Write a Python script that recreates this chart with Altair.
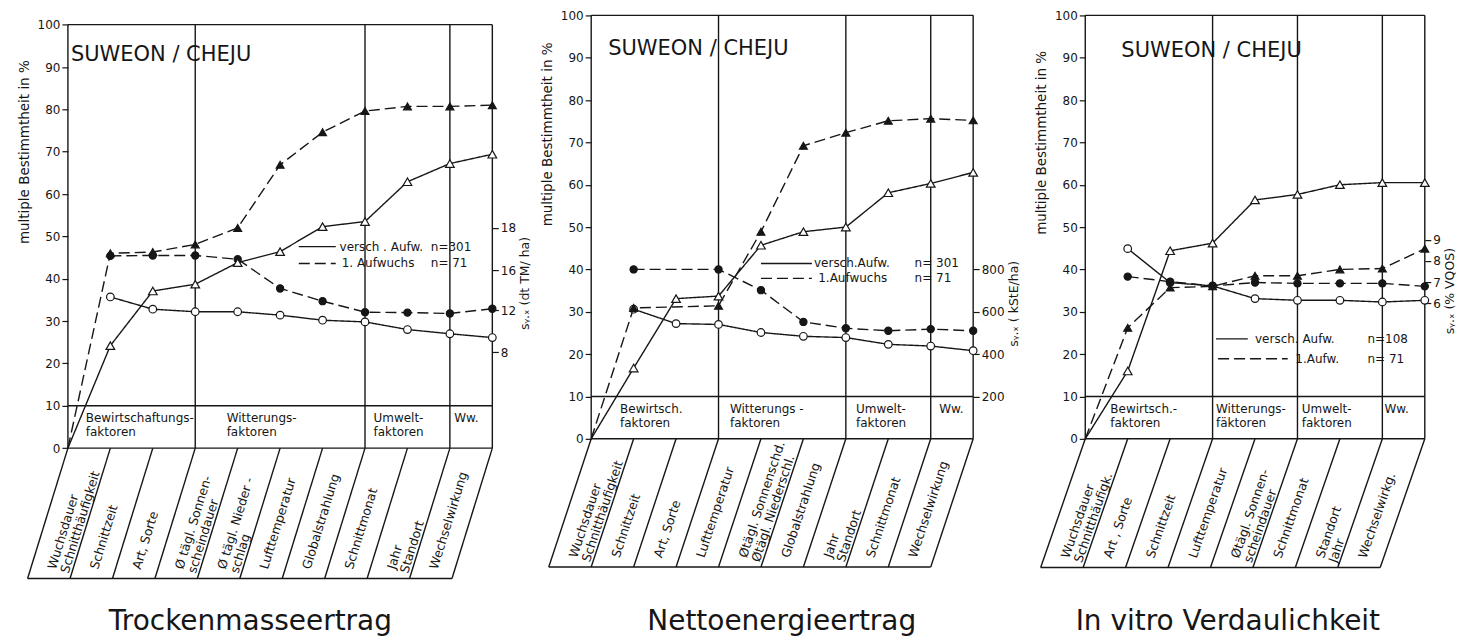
import math
import altair as alt
import pandas as pd

FONT = "DejaVu Sans"
INK = "#161616"
PXU = 42.5      # pixels per factor step (style)
PYU = 4.24      # pixels per percent (style)
H = 627

# ---------------- data: Trockenmasseertrag ----------------
p1_categories = ["Wuchsdauer\nSchnitthäufigkeit", "Schnittzeit", "Art, Sorte",
                 "Ø tägl. Sonnen-\nscheindauer", "Ø tägl. Nieder -\nschlag", "Lufttemperatur",
                 "Globalstrahlung", "Schnittmonat", "Jahr\nStandort", "Wechselwirkung"]
p1_r2_versch = [24.2, 37.1, 38.7, 43.8, 46.4, 52.3, 53.5, 62.9, 67.2, 69.4]
p1_r2_erst = [46.0, 46.3, 48.1, 52.0, 66.9, 74.6, 79.6, 80.7, 80.7, 81.0]
p1_s_versch = [35.7, 32.8, 32.2, 32.2, 31.4, 30.2, 29.8, 28.0, 27.0, 26.1]
p1_s_erst = [45.4, 45.5, 45.5, 44.6, 37.7, 34.7, 32.1, 32.0, 31.8, 32.9]
p1_groups = ["Bewirtschaftungs-\nfaktoren", "Witterungs-\nfaktoren", "Umwelt-\nfaktoren", "Ww."]
p1_group_ends = [3, 7, 9, 10]
p1_right_pos = [52, 42, 32.5, 22.6]
p1_right_labels = ["18", "16", "12", "8"]
p1_right_title = "sᵧ.ₓ (dt TM/ ha)"
p1_legend = ["versch . Aufw.", "1. Aufwuchs"]
p1_legend_n = ["n=301", "n=  71"]
p1_title = "Trockenmasseertrag"

# ---------------- data: Nettoenergieertrag ----------------
p2_categories = ["Wuchsdauer\nSchnitthäufigkeit", "Schnittzeit", "Art, Sorte", "Lufttemperatur",
                 "Øtägl. Sonnenschd.\nØtägl. Niederschl.", "Globalstrahlung", "Jahr\nStandort",
                 "Schnittmonat", "Wechselwirkung"]
p2_r2_versch = [16.7, 33.1, 33.7, 45.7, 48.9, 50.0, 58.1, 60.3, 62.9]
p2_r2_erst = [30.9, None, 31.4, 48.9, 69.2, 72.3, 75.1, 75.6, 75.2]
p2_s_versch = [30.6, 27.2, 27.0, 25.1, 24.2, 23.9, 22.3, 21.9, 20.8]
p2_s_erst = [40.0, None, 40.0, 35.1, 27.6, 26.1, 25.5, 25.9, 25.5]
p2_groups = ["Bewirtsch.\nfaktoren", "Witterungs -\nfaktoren", "Umwelt-\nfaktoren", "Ww."]
p2_group_ends = [3, 6, 8, 9]
p2_right_pos = [40, 30, 20, 10]
p2_right_labels = ["800", "600", "400", "200"]
p2_right_title = "sᵧ.ₓ ( kStE/ha)"
p2_legend = ["versch.Aufw.", "1.Aufwuchs"]
p2_legend_n = ["n= 301", "n=   71"]
p2_title = "Nettoenergieertrag"

# ---------------- data: In vitro Verdaulichkeit ----------------
p3_categories = ["Wuchsdauer\nSchnitthäufigk.", "Art , Sorte", "Schnittzeit", "Lufttemperatur",
                 "Øtägl. Sonnen-\nscheindauer", "Schnittmonat", "Standort\nJahr", "Wechselwirkg."]
p3_r2_versch = [16.0, 44.4, 46.2, 56.4, 57.7, 60.0, 60.5, 60.5]
p3_r2_erst = [26.2, 35.7, 36.0, 38.5, 38.5, 40.0, 40.2, 44.9]
p3_s_versch = [44.9, 36.9, 36.1, 33.1, 32.7, 32.7, 32.3, 32.7]
p3_s_erst = [38.3, 37.1, 36.1, 36.9, 36.7, 36.7, 36.7, 36.0]
p3_groups = ["Bewirtsch.-\nfaktoren", "Witterungs-\nfäktoren", "Umwelt-\nfaktoren", "Ww."]
p3_group_ends = [3, 5, 7, 8]
p3_right_pos = [47, 42, 37, 32]
p3_right_labels = ["9", "8", "7", "6"]
p3_right_title = "sᵧ.ₓ (% VQOS)"
p3_legend = ["versch. Aufw.", "1.Aufw."]
p3_legend_n = ["n=108", "n= 71"]
p3_title = "In vitro Verdaulichkeit"

location = "SUWEON / CHEJU"

# ---------------- layout / style per panel ----------------
styles = [
    dict(xmin=-55 / PXU, ymax=103.6, slant=0.95, depth=30.8,
         group_x=[0.42, 3.74, 7.2, 9.1], loc=(0.07, 92.8), title_x=4.3,
         leg_solid=(5.44, 6.31, 47.6), leg_dash=(5.44, 6.31, 43.6), leg_name_x=(6.4, 6.45),
         leg_n_x=8.55, ytitle_c=70, rtitle_c=39),
    dict(xmin=-1.1, ymax=101.4, slant=1.0, depth=30.3,
         group_x=[0.68, 3.27, 6.24, 8.2], loc=(0.4, 92.1), title_x=4.49,
         leg_solid=(4.0, 5.2, 41.4), leg_dash=(4.0, 5.2, 37.9), leg_name_x=(5.25, 5.35),
         leg_n_x=7.62, ytitle_c=72, rtitle_c=32),
    dict(xmin=-60.25 / PXU, ymax=101.4, slant=1.05, depth=30.4,
         group_x=[0.59, 3.08, 5.1, 7.05], loc=(0.85, 91.5), title_x=3.36,
         leg_solid=(3.08, 3.83, 23.6), leg_dash=(3.13, 4.77, 18.9), leg_name_x=(4.0, 4.95),
         leg_n_x=6.65, ytitle_c=70, rtitle_c=35),
]

panels_data = [
    (p1_categories, p1_r2_versch, p1_r2_erst, p1_s_versch, p1_s_erst, p1_groups, p1_group_ends,
     p1_right_pos, p1_right_labels, p1_right_title, p1_legend, p1_legend_n, p1_title),
    (p2_categories, p2_r2_versch, p2_r2_erst, p2_s_versch, p2_s_erst, p2_groups, p2_group_ends,
     p2_right_pos, p2_right_labels, p2_right_title, p2_legend, p2_legend_n, p2_title),
    (p3_categories, p3_r2_versch, p3_r2_erst, p3_s_versch, p3_s_erst, p3_groups, p3_group_ends,
     p3_right_pos, p3_right_labels, p3_right_title, p3_legend, p3_legend_n, p3_title),
]


def make_panel(d, st):
    (cats, r2v, r2e, sv, se, groups, gends, rpos, rlab, rtitle, legend, legend_n, title) = d
    N = len(cats)
    xmin = st["xmin"]
    ymax = st["ymax"]
    ymin = ymax - H / PYU
    depth, slant = st["depth"], st["slant"]
    W = (N - xmin) * PXU

    xs = alt.Scale(domain=[xmin, N], nice=False, zero=False)
    ys = alt.Scale(domain=[ymin, ymax], nice=False, zero=False)
    left_axis = alt.Axis(values=list(range(0, 101, 10)), domain=False, grid=False,
                         tickSize=6, tickColor=INK, tickWidth=1.2,
                         labelColor=INK, labelFont=FONT, labelFontSize=12, labelPadding=2,
                         offset=xmin * PXU,
                         title="multiple Bestimmtheit in %", titleFont=FONT, titleFontSize=13.5,
                         titleFontWeight="normal", titleColor=INK, titlePadding=6,
                         titleY=(ymax - st["ytitle_c"]) * PYU)

    def X():
        return alt.X("x:Q", scale=xs, axis=None)

    def Y():
        return alt.Y("y:Q", scale=ys, axis=left_axis)

    # series (long format)
    rows = []
    for name, vals, style, marker, origin in [
        ("r2v", r2v, "solid", "tri_open", True),
        ("r2e", r2e, "dashed", "tri_fill", True),
        ("sv", sv, "solid", "circ_open", False),
        ("se", se, "dashed", "circ_fill", False),
    ]:
        if origin:
            rows.append(dict(x=0, y=0, series=name, style=style, marker="none"))
        for i, v in enumerate(vals):
            if v is not None:
                rows.append(dict(x=i + 1, y=v, series=name, style=style, marker=marker))
    sdf = pd.DataFrame(rows)

    # frame & label-box segments
    segs = [(0, 100, N, 100), (0, 0, 0, 100), (N, 0, N, 100), (0, 0, N, 0), (0, 10, N, 10)]
    for e in gends[:-1]:
        segs.append((e, 0, e, 100))
    for k in range(0, N + 1):
        segs.append((k, 0, k - slant, -depth))
    segs.append((-slant, -depth, N - slant, -depth))
    segdf = pd.DataFrame(segs, columns=["x", "y", "x2", "y2"])

    frame = alt.Chart(segdf).mark_rule(color=INK, strokeWidth=1.4).encode(
        x=X(), x2="x2:Q", y=Y(), y2="y2:Q")

    lines = alt.Chart(sdf).mark_line(color=INK, strokeWidth=1.4).encode(
        x=X(), y=Y(), detail="series:N", order="x:Q",
        strokeDash=alt.StrokeDash("style:N", legend=None,
                                  scale=alt.Scale(domain=["solid", "dashed"], range=[[1, 0], [11, 5]])))

    pts = []
    for marker, shape, fill, size in [("circ_open", "circle", "white", 58),
                                      ("circ_fill", "circle", INK, 52),
                                      ("tri_open", "triangle-up", "white", 75),
                                      ("tri_fill", "triangle-up", INK, 62)]:
        pts.append(alt.Chart(sdf).transform_filter(alt.datum.marker == marker).mark_point(
            shape=shape, filled=True, fill=fill, stroke=INK, strokeWidth=1.2, size=size, opacity=1
        ).encode(x=X(), y=Y()))

    # category labels in the slanted boxes
    a = depth - 2.3
    cdf = pd.DataFrame({"x": [k - 0.5 - slant * a / depth for k in range(1, N + 1)],
                        "y": [-a] * N, "t": cats})
    ang = 360 - math.degrees(math.atan2(depth * PYU, slant * PXU))
    catlab = alt.Chart(cdf).mark_text(font=FONT, fontSize=12.5, color=INK, align="left",
                                      baseline="middle", angle=ang, lineBreak="\n",
                                      lineHeight=13.5).encode(x=X(), y=Y(), text="t:N")

    gdf = pd.DataFrame({"x": st["group_x"], "y": [8.3] * len(groups), "t": groups})
    grplab = alt.Chart(gdf).mark_text(font=FONT, fontSize=12, color=INK, align="left",
                                      baseline="top", lineBreak="\n", lineHeight=14.5).encode(
        x=X(), y=Y(), text="t:N")

    ldf = pd.DataFrame({"x": [st["loc"][0]], "y": [st["loc"][1]], "t": [location]})
    loclab = alt.Chart(ldf).mark_text(font=FONT, fontSize=21, color=INK, align="left",
                                      baseline="middle").encode(x=X(), y=Y(), text="t:N")

    ty = ymax - (629 - 8) / PYU
    tdf = pd.DataFrame({"x": [st["title_x"]], "y": [ty], "t": [title]})
    titlelab = alt.Chart(tdf).mark_text(font=FONT, fontSize=28, color=INK, align="center",
                                        baseline="alphabetic").encode(x=X(), y=Y(), text="t:N")

    # legend
    s0, s1, sy = st["leg_solid"]
    d0, d1, dy = st["leg_dash"]
    legsolid = alt.Chart(pd.DataFrame({"x": [s0], "x2": [s1], "y": [sy]})).mark_rule(
        color=INK, strokeWidth=1.3).encode(x=X(), x2="x2:Q", y=Y())
    legdash = alt.Chart(pd.DataFrame({"x": [d0], "x2": [d1], "y": [dy]})).mark_rule(
        color=INK, strokeWidth=1.3, strokeDash=[11, 5]).encode(x=X(), x2="x2:Q", y=Y())
    legtdf = pd.DataFrame({"x": list(st["leg_name_x"]) + [st["leg_n_x"]] * 2,
                           "y": [sy, dy, sy, dy],
                           "t": legend + legend_n})
    legtxt = alt.Chart(legtdf).mark_text(font=FONT, fontSize=12, color=INK, align="left",
                                         baseline="middle").encode(x=X(), y=Y(), text="t:N")

    main = alt.layer(frame, lines, *pts, catlab, grplab, loclab, titlelab, legsolid, legdash, legtxt)

    expr = " : ".join(f"datum.value == {p} ? '{l}'" for p, l in zip(rpos, rlab)) + " : ''"
    right_axis = alt.Axis(orient="right", values=rpos, labelExpr=expr, domain=False, grid=False,
                          tickSize=6, tickColor=INK, tickWidth=1.2, labelColor=INK, labelFont=FONT,
                          labelFontSize=12, labelPadding=2, title=rtitle, titleFont=FONT,
                          titleFontSize=12.5, titleFontWeight="normal", titleColor=INK,
                          titleAngle=270, titleBaseline="top", titlePadding=3,
                          titleY=(ymax - st["rtitle_c"]) * PYU)
    rdf = pd.DataFrame({"pos": rpos})
    right = alt.Chart(rdf).mark_point(opacity=0).encode(
        x=alt.value(0), y=alt.Y("pos:Q", scale=ys, axis=right_axis))

    return alt.layer(main, right).resolve_scale(y="independent").properties(width=W, height=H)


panels = [make_panel(d, st) for d, st in zip(panels_data, styles)]

chart = alt.hconcat(*panels, spacing=51.25, bounds="flush").properties(
    padding={"left": 2, "top": 0, "right": 0, "bottom": 0},
    background="white",
).configure_view(stroke=None)

chart.save("out.html", embed_options={"renderer": "svg", "actions": False})
